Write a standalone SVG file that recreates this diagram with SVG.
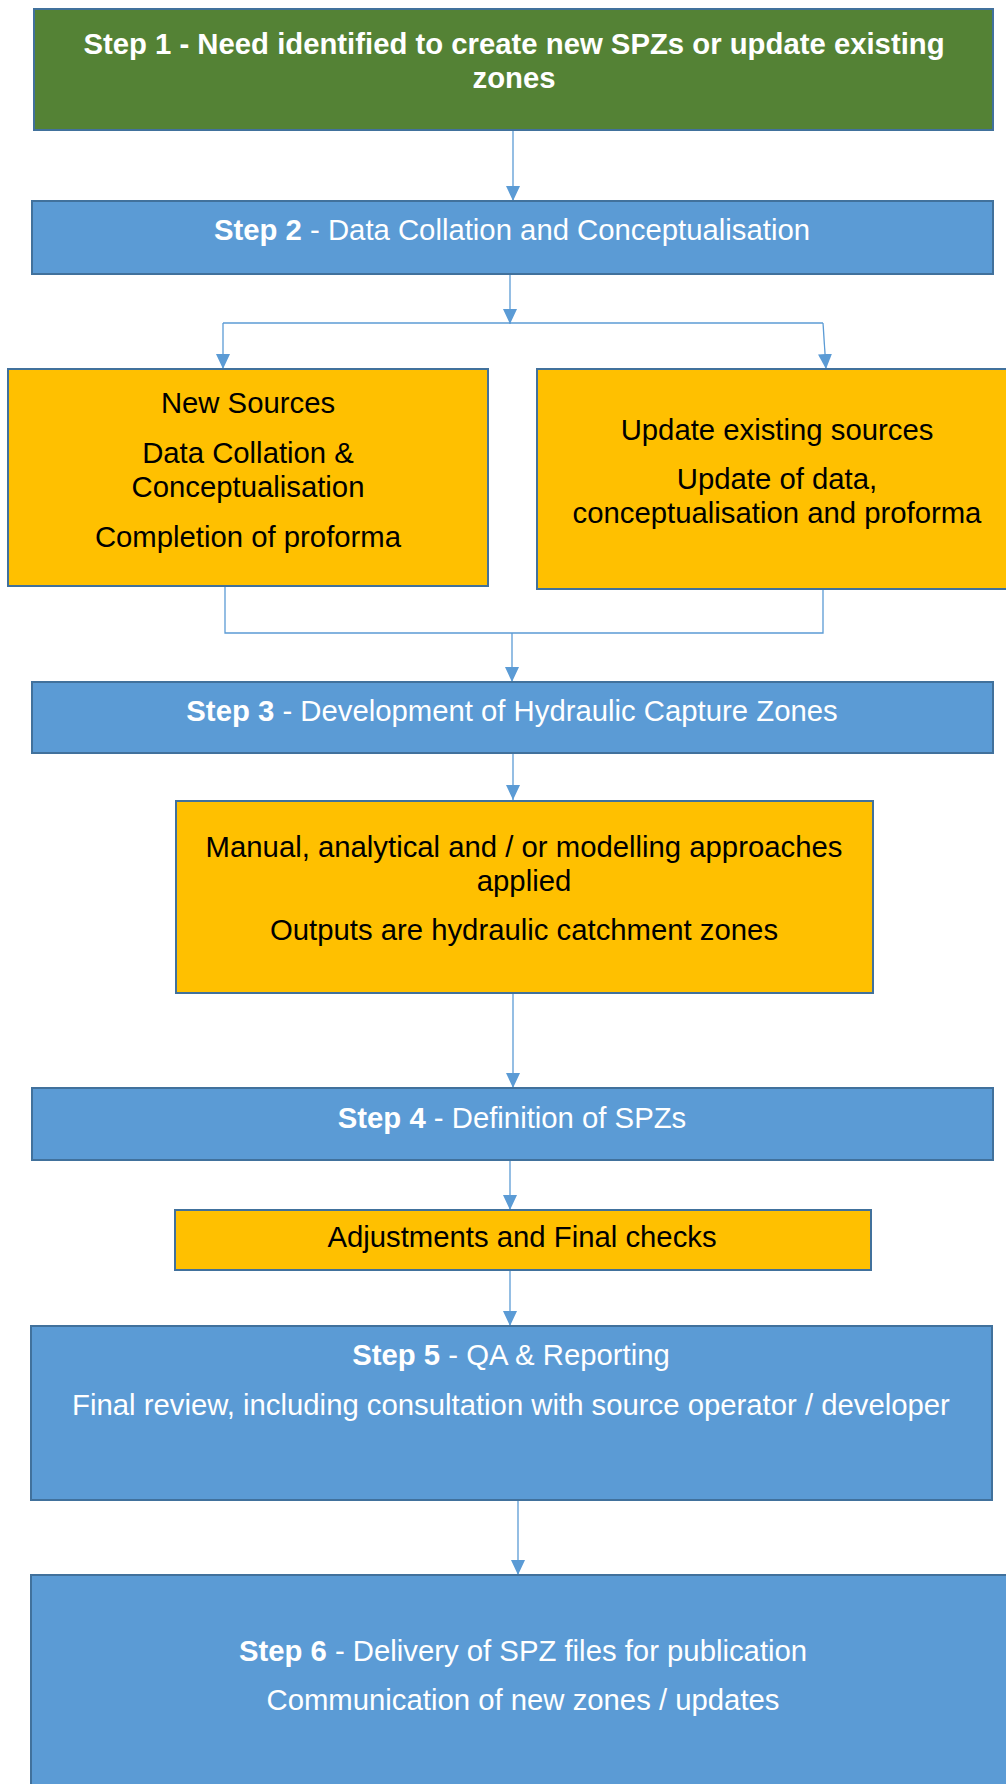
<svg xmlns="http://www.w3.org/2000/svg" width="1006" height="1784" viewBox="0 0 1006 1784">
<style>
.box{stroke:#41719C;stroke-width:2}
.green{fill:#548235}
.blue{fill:#5B9BD5}
.yellow{fill:#FFC000}
text{font-family:"Liberation Sans",Arial,sans-serif;font-size:29.3px;text-anchor:middle}
.w{fill:#FFFFFF}
.k{fill:#000000}
.b{font-weight:bold}
.conn{fill:none;stroke:#5B9BD5;stroke-width:1.3}
</style>
<defs>
<marker id="ah" markerWidth="15" markerHeight="14" refX="15" refY="7" orient="auto" markerUnits="userSpaceOnUse" viewBox="0 0 15 14">
<path d="M0,0 L15,7 L0,14 Z" fill="#5B9BD5"/>
</marker>
</defs>
<g id="connectors">
<path class="conn" d="M513,130 L513,201" marker-end="url(#ah)"/>
<path class="conn" d="M510,274 L510,324" marker-end="url(#ah)"/>
<path class="conn" d="M223,323 L823,323"/>
<path class="conn" d="M223,323 L223,369" marker-end="url(#ah)"/>
<path class="conn" d="M823,323 L826,369" marker-end="url(#ah)"/>
<path class="conn" d="M225,587 L225,633 L823,633 L823,589"/>
<path class="conn" d="M512,633 L512,682" marker-end="url(#ah)"/>
<path class="conn" d="M513,753 L513,800" marker-end="url(#ah)"/>
<path class="conn" d="M513,993 L513,1088" marker-end="url(#ah)"/>
<path class="conn" d="M510,1160 L510,1210" marker-end="url(#ah)"/>
<path class="conn" d="M510,1270 L510,1326" marker-end="url(#ah)"/>
<path class="conn" d="M518,1500 L518,1575" marker-end="url(#ah)"/>
</g>
<g id="step1">
<rect class="box green" x="34" y="9" width="959" height="121"/>
<text class="w b" x="514" y="54">Step 1 - Need identified to create new SPZs or update existing</text>
<text class="w b" x="514" y="88">zones</text>
</g>
<g id="step2">
<rect class="box blue" x="32" y="201" width="961" height="73"/>
<text class="w" x="512" y="240"><tspan class="b">Step 2</tspan> - Data Collation and Conceptualisation</text>
</g>
<g id="new-sources">
<rect class="box yellow" x="8" y="369" width="480" height="217"/>
<text class="k" x="248" y="413">New Sources</text>
<text class="k" x="248" y="463">Data Collation &amp;</text>
<text class="k" x="248" y="497">Conceptualisation</text>
<text class="k" x="248" y="547">Completion of proforma</text>
</g>
<g id="update-sources">
<rect class="box yellow" x="537" y="369" width="482" height="220"/>
<text class="k" x="777" y="440">Update existing sources</text>
<text class="k" x="777" y="489">Update of data,</text>
<text class="k" x="777" y="523">conceptualisation and proforma</text>
</g>
<g id="step3">
<rect class="box blue" x="32" y="682" width="961" height="71"/>
<text class="w" x="512" y="721"><tspan class="b">Step 3</tspan> - Development of Hydraulic Capture Zones</text>
</g>
<g id="approaches">
<rect class="box yellow" x="176" y="801" width="697" height="192"/>
<text class="k" x="524" y="857">Manual, analytical and / or modelling approaches</text>
<text class="k" x="524" y="891">applied</text>
<text class="k" x="524" y="940">Outputs are hydraulic catchment zones</text>
</g>
<g id="step4">
<rect class="box blue" x="32" y="1088" width="961" height="72"/>
<text class="w" x="512" y="1128"><tspan class="b">Step 4</tspan> - Definition of SPZs</text>
</g>
<g id="adjustments">
<rect class="box yellow" x="175" y="1210" width="696" height="60"/>
<text class="k" x="522" y="1247">Adjustments and Final checks</text>
</g>
<g id="step5">
<rect class="box blue" x="31" y="1326" width="961" height="174"/>
<text class="w" x="511" y="1365"><tspan class="b">Step 5</tspan> - QA &amp; Reporting</text>
<text class="w" x="511" y="1415">Final review, including consultation with source operator / developer</text>
</g>
<g id="step6">
<rect class="box blue" x="31" y="1575" width="985" height="220"/>
<text class="w" x="523" y="1661"><tspan class="b">Step 6</tspan> - Delivery of SPZ files for publication</text>
<text class="w" x="523" y="1710">Communication of new zones / updates</text>
</g>
</svg>
